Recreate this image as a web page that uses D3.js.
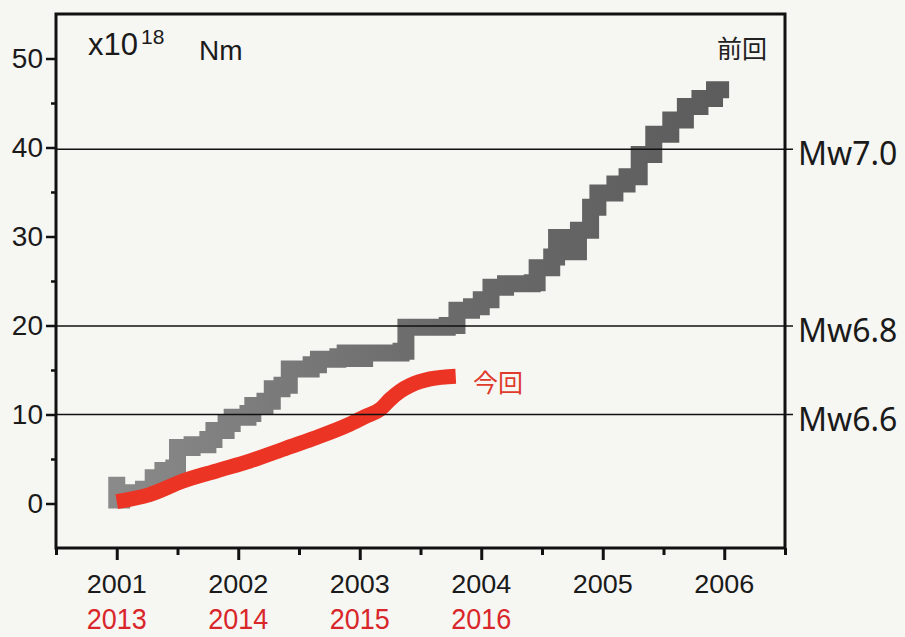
<!DOCTYPE html>
<html><head><meta charset="utf-8">
<script src="https://cdn.jsdelivr.net/npm/d3@7"></script>
<style>
html,body{margin:0;padding:0;background:#f6f6f3;}
svg{display:block;}
</style></head>
<body>
<svg id="chart" width="905" height="637"></svg>
<script>
// ---- data ----
const prevYears = [2001.00,2001.00,2001.04,2001.22,2001.30,2001.38,2001.47,2001.50,2001.62,2001.75,2001.80,2001.90,2001.95,2002.08,2002.12,2002.22,2002.28,2002.36,2002.42,2002.60,2002.66,2002.82,2002.88,2002.96,2003.04,2003.34,2003.38,2003.72,2003.80,2003.92,2004.00,2004.08,2004.20,2004.42,2004.46,2004.58,2004.62,2004.70,2004.73,2004.80,2004.90,2004.96,2005.10,2005.20,2005.30,2005.42,2005.56,2005.68,2005.80,2005.92,2006.04];
const prevValues = [3.0,0.4,1.2,1.6,2.9,3.7,4.0,6.3,6.6,7.2,8.2,9.0,9.7,10.1,11.0,11.5,12.9,13.3,15.1,15.6,16.2,16.5,16.9,16.3,16.9,17.1,19.8,20.0,21.7,22.1,22.9,24.3,24.7,24.8,26.5,27.7,29.9,29.7,28.3,30.7,33.3,34.9,35.9,36.7,39.2,41.5,43.1,44.6,45.5,46.5,46.5];
const curYears = [2001.00,2001.27,2001.54,2001.83,2002.10,2002.37,2002.62,2002.90,2003.05,2003.17,2003.25,2003.33,2003.42,2003.58,2003.79];
const curValues = [0.2,1.0,2.5,3.7,4.8,6.1,7.3,8.8,9.8,10.6,11.7,12.6,13.3,14.0,14.3];
const yTickValues = [0,10,20,30,40,50];
const yMinorTicks = [5,15,25,35,45];
const xTickYears = [2001,2002,2003,2004,2005,2006];
const xMinorYears = [2000.5,2001.5,2002.5,2003.5,2004.5,2005.5,2006.5];
const xLabelsPrev = ["2001","2002","2003","2004","2005","2006"];
const xLabelsCurYears = [2001,2002,2003,2004];
const xLabelsCur = ["2013","2014","2015","2016"];
const mwLevels = [39.8,19.95,10.0];
const mwLabels = ["Mw7.0","Mw6.8","Mw6.6"];

// ---- layout ----
const svg = d3.select("#chart");
const L = 56, R = 785, T = 14, B = 548;
const x = d3.scaleLinear().domain([2000.5,2006.5]).range([L,R]);
const y = d3.scaleLinear().domain([-5,55]).range([B,T]);

const defs = svg.append("defs");
const grad = defs.append("linearGradient").attr("id","gg")
  .attr("gradientUnits","userSpaceOnUse")
  .attr("x1",x(2001)).attr("x2",x(2006)).attr("y1",0).attr("y2",0);
grad.append("stop").attr("offset","0").attr("stop-color","#8a8a8a");
grad.append("stop").attr("offset","0.5").attr("stop-color","#6c6c6c");
grad.append("stop").attr("offset","1").attr("stop-color","#5c5c5c");

// series
const prevData = prevYears.map((d,i)=>[d,prevValues[i]]);
const curData = curYears.map((d,i)=>[d,curValues[i]]);

svg.append("path")
  .attr("d", d3.line().x(d=>x(d[0])).y(d=>y(d[1])).curve(d3.curveStepAfter)(prevData))
  .attr("fill","none").attr("stroke","url(#gg)").attr("stroke-width",17)
  .attr("stroke-linejoin","miter").attr("stroke-miterlimit",4).attr("stroke-linecap","butt");

svg.append("path")
  .attr("d", d3.line().x(d=>x(d[0])).y(d=>y(d[1])).curve(d3.curveMonotoneX)(curData))
  .attr("fill","none").attr("stroke","#ec3424").attr("stroke-width",15)
  .attr("stroke-linejoin","round").attr("stroke-linecap","butt");

// Mw reference lines
svg.selectAll("line.mw").data(mwLevels).enter().append("line")
  .attr("x1",L).attr("x2",R+8)
  .attr("y1",d=>y(d)).attr("y2",d=>y(d))
  .attr("stroke","#111").attr("stroke-width",1.6);
svg.selectAll("text.mw").data(mwLevels).enter().append("text")
  .attr("x",798).attr("y",d=>y(d)+16)
  .attr("font-family","'Noto Sans', 'Open Sans', sans-serif")
  .attr("font-size",32).attr("fill","#1a1a1a")
  .text((d,i)=>mwLabels[i]);

// axes
const fontNum = "'Liberation Sans', Arial, sans-serif";
const yAxis = svg.append("g").attr("transform",`translate(${L},0)`)
  .call(d3.axisLeft(y).tickValues(yTickValues).tickSize(10).tickPadding(3).tickFormat(d3.format("d")));
yAxis.select(".domain").remove();
yAxis.selectAll(".tick line").attr("stroke","#111").attr("stroke-width",2.5);
yAxis.selectAll(".tick text").attr("font-family",fontNum).attr("font-size",28).attr("fill","#1a1a1a");

const yMinor = svg.append("g").attr("transform",`translate(${L},0)`)
  .call(d3.axisLeft(y).tickValues(yMinorTicks).tickSize(5).tickFormat(""));
yMinor.select(".domain").remove();
yMinor.selectAll(".tick line").attr("stroke","#111").attr("stroke-width",2.5);

const xAxis = svg.append("g").attr("transform",`translate(0,${B})`)
  .call(d3.axisBottom(x).tickValues(xTickYears).tickSize(12).tickFormat(""));
xAxis.select(".domain").remove();
xAxis.selectAll(".tick line").attr("stroke","#111").attr("stroke-width",3);

const xMinor = svg.append("g").attr("transform",`translate(0,${B})`)
  .call(d3.axisBottom(x).tickValues(xMinorYears).tickSize(7).tickFormat(""));
xMinor.select(".domain").remove();
xMinor.selectAll(".tick line").attr("stroke","#111").attr("stroke-width",3);

svg.selectAll("text.xl1").data(xTickYears).enter().append("text")
  .attr("x",d=>x(d)).attr("y",593).attr("text-anchor","middle")
  .attr("font-family",fontNum).attr("font-size",25).attr("fill","#1a1a1a")
  .attr("textLength",60).attr("lengthAdjust","spacingAndGlyphs")
  .text((d,i)=>xLabelsPrev[i]);
svg.selectAll("text.xl2").data(xLabelsCurYears).enter().append("text")
  .attr("x",d=>x(d)).attr("y",629).attr("text-anchor","middle")
  .attr("font-family",fontNum).attr("font-size",29).attr("fill","#d9262a")
  .attr("textLength",60).attr("lengthAdjust","spacingAndGlyphs")
  .text((d,i)=>xLabelsCur[i]);

// frame
svg.append("rect").attr("x",L).attr("y",T).attr("width",R-L).attr("height",B-T)
  .attr("fill","none").attr("stroke","#111").attr("stroke-width",3);

// unit label
const unit = svg.append("text").attr("x",88).attr("y",55)
  .attr("font-family",fontNum).attr("fill","#1a1a1a");
unit.append("tspan").attr("font-size",31).text("x10");
unit.append("tspan").attr("font-size",21).attr("dx",3).attr("dy",-11).text("18");
svg.append("text").attr("x",199).attr("y",60)
  .attr("font-family",fontNum).attr("font-size",28).attr("fill","#1a1a1a").text("Nm");

// series labels
svg.append("text").attr("x",717).attr("y",58)
  .attr("font-family","'Noto Sans CJK JP', sans-serif").attr("font-size",25).attr("fill","#222")
  .text("前回");
svg.append("text").attr("x",473).attr("y",392)
  .attr("font-family","'Noto Sans CJK JP', sans-serif").attr("font-size",25).attr("fill","#e03a2c")
  .text("今回");
</script>
</body></html>
